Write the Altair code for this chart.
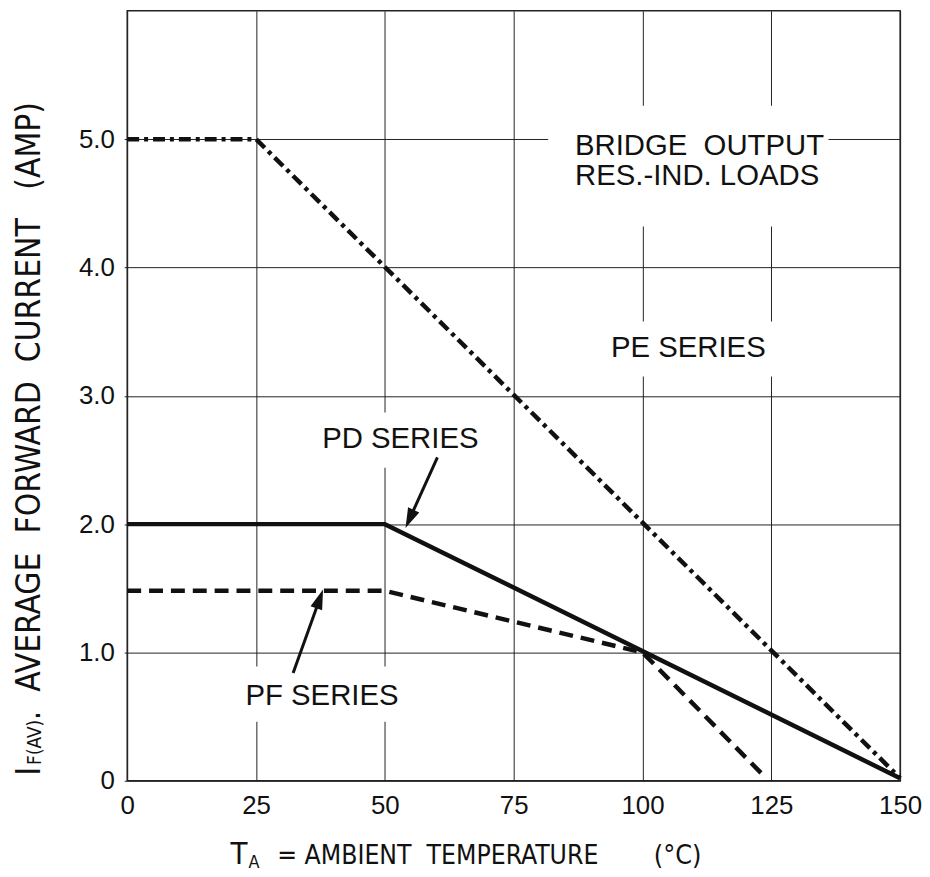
import math
import altair as alt
import pandas as pd

# ---------------- data ----------------
W, H = 778, 775
X_MAX, Y_MAX = 150, 6

x_ticks = [0, 25, 50, 75, 100, 125, 150]
y_ticks = [0, 1, 2, 3, 4, 5]

pe_t = [0, 25, 150]
pe_i = [5.0, 5.0, 0.02]
pd_t = [0, 50, 150]
pd_i = [2.0, 2.0, 0.02]
pf_t = [0, 50, 100, 124]
pf_i = [1.48, 1.48, 1.0, 0.02]

NB = "\u00a0"
note_text = ["BRIDGE" + NB * 2 + "OUTPUT", "RES.-IND. LOADS", "PE SERIES", "PD SERIES", "PF SERIES"]
note_t = [86.9, 86.9, 108.9, 53.0, 37.8]
note_i = [4.95, 4.71, 3.37, 2.66, 0.66]
note_align = ["left", "left", "center", "center", "center"]

box_t1 = [81.7, 91.0, 39.0, 22.5]
box_t2 = [136.1, 127.6, 67.0, 53.4]
box_i1 = [4.32, 3.15, 2.44, 0.46]
box_i2 = [5.26, 3.58, 2.87, 0.89]

arrow_tail_t = [60.2, 32.2]
arrow_tail_i = [2.52, 0.84]
arrow_tip_t = [54.0, 38.0]
arrow_tip_i = [1.97, 1.49]

x_title_parts = ["T", "A", "= AMBIENT" + NB * 2 + "TEMPERATURE", "(°C)"]
y_title_parts = ["I", "F(AV)", "." + NB * 2 + "AVERAGE" + NB * 2 + "FORWARD" + NB * 2
                 + "CURRENT" + NB * 3 + "(AMP)"]

INK = "#111111"
SANS = "Liberation Sans, Arial, sans-serif"
NARROW = "Liberation Sans Narrow, Arial Narrow, DejaVu Sans Condensed, sans-serif"

xs = alt.Scale(domain=[0, X_MAX], nice=False, zero=False)
ys = alt.Scale(domain=[0, Y_MAX], nice=False, zero=False)

x_axis = alt.Axis(values=x_ticks, title=None, grid=True, ticks=False, domain=False,
                  labelFontSize=26, labelFont=SANS, labelColor=INK, labelPadding=12,
                  gridColor="#222222", gridWidth=1, gridOpacity=1, labelFlush=False)
y_axis = alt.Axis(values=y_ticks, title=None, grid=True, ticks=True, tickSize=3,
                  tickColor="#222222", domain=False,
                  labelExpr="datum.value == 0 ? '0' : format(datum.value, '.1f')",
                  labelFontSize=26, labelFont=SANS, labelColor=INK, labelPadding=10,
                  gridColor="#222222", gridWidth=1, gridOpacity=1, labelFlush=False)


def X(f):
    return alt.X(f, scale=xs, axis=x_axis)


def Y(f):
    return alt.Y(f, scale=ys, axis=y_axis)


series = pd.concat([
    pd.DataFrame({"t": pe_t, "i": pe_i, "s": "PE"}),
    pd.DataFrame({"t": pd_t, "i": pd_i, "s": "PD"}),
    pd.DataFrame({"t": pf_t, "i": pf_i, "s": "PF"}),
])

# white boxes behind annotation text (interrupt grid lines)
boxes = pd.DataFrame({"t1": box_t1, "t2": box_t2, "i1": box_i1, "i2": box_i2})
box_layer = alt.Chart(boxes).mark_rect(color="white").encode(
    x=X("t1:Q"), x2="t2:Q", y=Y("i1:Q"), y2="i2:Q",
)


def line_layer(name, dash):
    kw = dict(color=INK, strokeWidth=4.5, strokeCap="butt", strokeJoin="miter")
    if dash:
        kw["strokeDash"] = dash
    return alt.Chart(series[series.s == name]).mark_line(**kw).encode(
        x=X("t:Q"), y=Y("i:Q"), order="t:Q",
    )


pe_layer = line_layer("PE", [12, 5, 4, 5])
pd_layer = line_layer("PD", None)
pf_layer = line_layer("PF", [14, 8])

notes = pd.DataFrame({"txt": note_text, "t": note_t, "i": note_i, "a": note_align})
note_layers = []
for al in ["left", "center"]:
    note_layers.append(
        alt.Chart(notes[notes.a == al]).mark_text(
            font=SANS, fontSize=29.5, color=INK, align=al, baseline="middle"
        ).encode(x=X("t:Q"), y=Y("i:Q"), text="txt:N")
    )

# arrows
px_t = W / X_MAX
px_i = H / Y_MAX
HEAD = 400
half = math.sqrt(HEAD) / 2
rows = []
for tt, ti, pt, pi in zip(arrow_tail_t, arrow_tail_i, arrow_tip_t, arrow_tip_i):
    dx = (pt - tt) * px_t
    dy = -(pi - ti) * px_i
    L = math.hypot(dx, dy)
    ang = math.degrees(math.atan2(dx, -dy)) % 360
    ct = pt - (dx / L) * half / px_t
    ci = pi + (dy / L) * half / px_i
    rows.append({"tt": tt, "ti": ti, "ct": ct, "ci": ci, "ang": ang})
arr = pd.DataFrame(rows)

shaft_layer = alt.Chart(arr).mark_rule(color=INK, strokeWidth=3).encode(
    x=X("tt:Q"), x2="ct:Q", y=Y("ti:Q"), y2="ci:Q",
)
head_layer = alt.Chart(arr).mark_point(
    shape="M0,-1L0.62,1L-0.62,1Z", filled=True, color=INK, opacity=1, size=HEAD, strokeWidth=0
).encode(
    x=X("ct:Q"), y=Y("ci:Q"), angle=alt.Angle("ang:Q", scale=None),
)


def piece(txt, x, y, size, angle=0, font=NARROW):
    return alt.Chart(pd.DataFrame({"s": [txt]})).mark_text(
        font=font, fontSize=size, color=INK, align="left", baseline="alphabetic", angle=angle
    ).encode(x=alt.value(x), y=alt.value(y), text="s:N")


xb = H + 84
x_title = [
    piece(x_title_parts[0], 104, xb, 31),
    piece(x_title_parts[1], 122, xb + 4, 18),
    piece(x_title_parts[2], 151, xb, 26.5),
    piece(x_title_parts[3], 530, xb, 27),
]
yb = -88
y_title = [
    piece(y_title_parts[0], yb, 770, 34, angle=270),
    piece(y_title_parts[1], yb + 1, 759, 19, angle=270),
    piece(y_title_parts[2], yb, 714, 33.5, angle=270),
]

chart = alt.layer(
    box_layer, pe_layer, pd_layer, pf_layer, shaft_layer, head_layer,
    *note_layers, *x_title, *y_title
).properties(
    width=W, height=H,
    autosize=alt.AutoSizeParams(type="none"),
    padding={"left": 120, "top": 0, "right": 22, "bottom": 94},
    background="white",
).configure_view(stroke="#222222", strokeWidth=1.5)

chart.save("out.html", embed_options={"renderer": "svg", "actions": False})
